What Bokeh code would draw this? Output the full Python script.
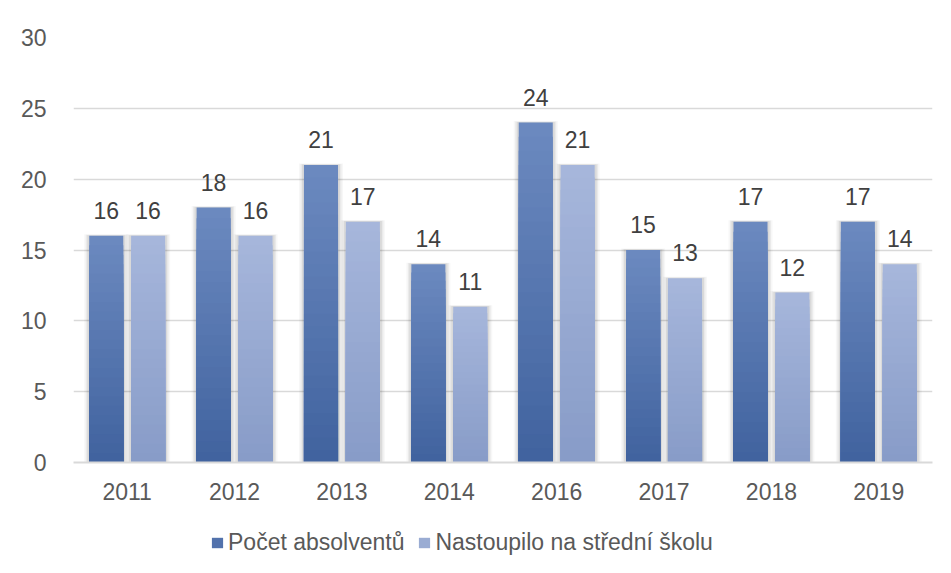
from bokeh.plotting import figure
from bokeh.models import ColumnDataSource, FactorRange, Legend, LegendItem, LabelSet, Range1d
from bokeh.layouts import column
from bokeh.core.properties import value
from bokeh.transform import dodge
from bokeh.embed import file_html
from bokeh.resources import INLINE

years = ["2011", "2012", "2013", "2014", "2016", "2017", "2018", "2019"]
absolventi = [16, 18, 21, 14, 24, 15, 17, 17]
nastoupilo = [16, 16, 17, 11, 21, 13, 12, 14]
series_names = ["Počet absolventů", "Nastoupilo na střední školu"]
y_ticks = [0, 5, 10, 15, 20, 25, 30]

FONT = "Liberation Sans"
TXT = "#595959"
FS = "23px"

p = figure(x_range=FactorRange(*years), y_range=Range1d(0, 30),
           width=948, height=515, output_backend="svg", toolbar_location=None,
           min_border_left=73, min_border_right=16, min_border_top=37, min_border_bottom=53)
p.outline_line_color = None
p.background_fill_color = "white"

src = ColumnDataSource(dict(x=years, a=absolventi, b=nastoupilo,
                            la=[str(v) for v in absolventi], lb=[str(v) for v in nastoupilo]))

BW = 0.317
OFF = 0.195
PX = 1 / 107.4


def lerp(c1, c2, t):
    return "#%02x%02x%02x" % tuple(int(round(c1[i] + (c2[i] - c1[i]) * t)) for i in range(3))


def grad_bars(vals, offset, top_c, bot_c, n=24):
    for extra, alpha in [(10, 0.03), (7, 0.05), (4, 0.07)]:
        s = ColumnDataSource(dict(x=years, t=[v + extra * 0.15 * 30 / 425 for v in vals]))
        p.vbar(x=dodge("x", offset, range=p.x_range), top="t", width=BW + extra * PX, source=s,
               fill_color="#000000", fill_alpha=alpha, line_color=None)
    for k in range(n):
        f = 1 - k / n
        col = lerp(top_c, bot_c, k / (n - 1))
        s = ColumnDataSource(dict(x=years, t=[v * f for v in vals]))
        p.vbar(x=dodge("x", offset, range=p.x_range), top="t", width=BW,
               source=s, fill_color=col, line_color=None)


A_TOP, A_BOT = (0x6b, 0x89, 0xbf), (0x41, 0x63, 0x9f)
B_TOP, B_BOT = (0xa6, 0xb6, 0xdb), (0x88, 0x9c, 0xc8)
grad_bars(absolventi, -OFF, A_TOP, A_BOT)
grad_bars(nastoupilo, OFF, B_TOP, B_BOT)

for fld, lab, off in [("a", "la", -OFF), ("b", "lb", OFF)]:
    p.add_layout(LabelSet(x=dodge("x", off, range=p.x_range), y=fld, text=lab, source=src,
                          text_align="center", text_baseline="alphabetic", y_offset=17,
                          text_font=value(FONT), text_font_size=FS, text_color="#404040"))

p.xaxis.axis_line_color = "#d9d9d9"
p.xaxis.axis_line_width = 2
p.xaxis.major_tick_line_color = None
p.xaxis.minor_tick_line_color = None
p.xaxis.major_label_text_font = FONT
p.xaxis.major_label_text_font_size = FS
p.xaxis.major_label_text_color = TXT
p.xaxis.major_label_standoff = 14

p.yaxis.ticker = y_ticks
p.yaxis.axis_line_color = None
p.yaxis.major_tick_line_color = None
p.yaxis.minor_tick_line_color = None
p.yaxis.major_label_text_font = FONT
p.yaxis.major_label_text_font_size = FS
p.yaxis.major_label_text_color = TXT
p.yaxis.major_label_standoff = 21

p.xgrid.grid_line_color = None
p.ygrid.grid_line_color = "#d9d9d9"
p.ygrid.grid_line_width = 1.5

# legend figure (frame is aligned with the main plot's frame by the column layout)
lf = figure(width=948, height=58, output_backend="svg", toolbar_location=None,
            x_range=Range1d(0, 1), y_range=Range1d(0, 1),
            x_axis_location=None, y_axis_location=None,
            min_border_left=0, min_border_right=0, min_border_top=0, min_border_bottom=0)
lf.outline_line_color = None
lf.xgrid.grid_line_color = None
lf.ygrid.grid_line_color = None
dummy = ColumnDataSource(dict(x=[0.5], t=[-5], b=[-6]))
la = lf.vbar(x="x", top="t", bottom="b", width=0.1, source=dummy,
             fill_color=lerp(A_TOP, A_BOT, 0.6), line_color=None)
lb = lf.vbar(x="x", top="t", bottom="b", width=0.1, source=dummy,
             fill_color=lerp(B_TOP, B_BOT, 0.4), line_color=None)
legend = Legend(items=[LegendItem(label=series_names[0], renderers=[la]),
                       LegendItem(label=series_names[1], renderers=[lb])],
                orientation="horizontal", location=(137, 17),
                label_text_font=FONT, label_text_font_size=FS, label_text_color=TXT,
                glyph_width=14, glyph_height=13, label_standoff=4, spacing=13,
                border_line_color=None, background_fill_alpha=0, margin=0, padding=4)
lf.add_layout(legend, "center")

layout = column(p, lf, spacing=0)
open("out.html", "w").write(file_html(layout, INLINE))
